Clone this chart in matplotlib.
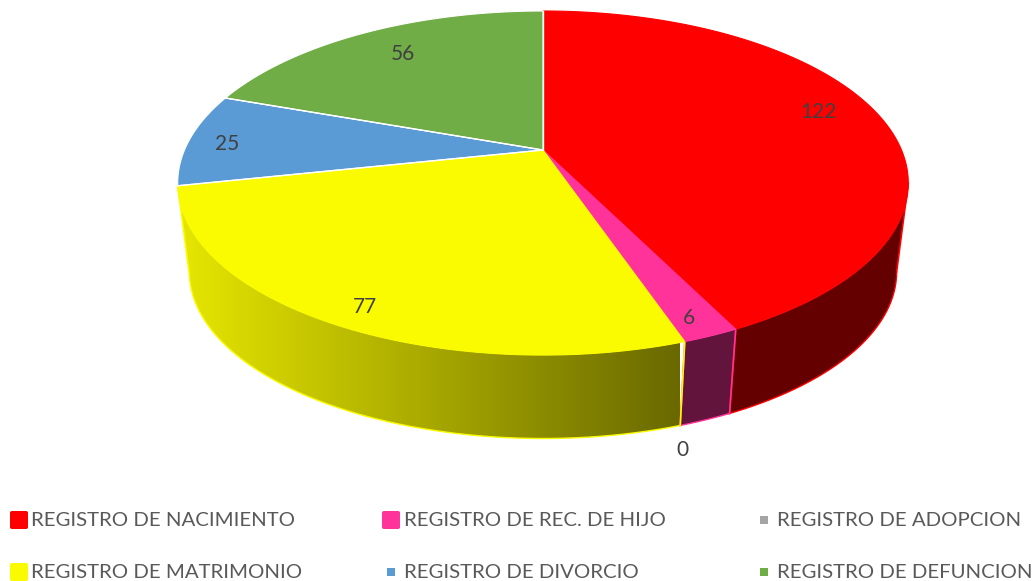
import numpy as np
import matplotlib
matplotlib.use('Agg')
matplotlib.rcParams['font.family'] = 'Lato'
import matplotlib.pyplot as plt
from matplotlib.patches import FancyBboxPatch, Polygon, Rectangle

categories = ['REGISTRO DE NACIMIENTO', 'REGISTRO DE REC. DE HIJO', 'REGISTRO DE ADOPCION',
              'REGISTRO DE MATRIMONIO', 'REGISTRO DE DIVORCIO', 'REGISTRO DE DEFUNCION']
values = [122, 6, 0, 77, 25, 56]
colors = ['#FF0000', '#FF3399', '#A5A5A5', '#FBFB00', '#5B9BD5', '#70AD47']
side_colors = ['#640000', '#63143C', '#555555', None]

# label positions in pixels
label_x = [818, 689, 682, 365, 227, 403]
label_y = [112, 318, 450, 307, 144, 54]

# legend layout in pixels: box x, text x, row y, box size
legend_box_x = [10, 382, 760, 10, 387, 760]
legend_text_x = [31, 404, 777, 31, 404, 777]
legend_y = [520, 520, 520, 572, 572, 572]
legend_box = [18, 18, 8, 18, 8, 8]

# perspective of the disc
cx, cy = 543, 150
A, B, p = 358.5, 165.7, 0.192
shrink, bottom_y = 0.968, 240
wall_start = np.arccos(-p)


def top_rim(t):
    u, v = np.sin(t), np.cos(t)
    w = 1 + p*v
    return cx + A*u/w, cy - B*v/w


def bottom_rim(t):
    x, y = top_rim(t)
    return cx + shrink*(x - cx), bottom_y + shrink*(y - cy)


fig = plt.figure(figsize=(10.32, 5.81), dpi=100)
ax = fig.add_axes([0, 0, 1, 1])

edges = np.cumsum([0] + values)/sum(values)*2*np.pi

# walls, blue and green sit at the back so they have none
for i in range(len(side_colors)):
    t0, t1 = max(edges[i], wall_start), edges[i+1]
    if t0 >= t1:
        continue
    t = np.linspace(t0, t1, 300)
    xt, yt = top_rim(t)
    xb, yb = bottom_rim(t)
    pts = np.column_stack([np.r_[xt, xb[::-1]], np.r_[yt, yb[::-1]]])
    if side_colors[i] is None:
        # yellow wall gets darker to the right
        wall = Polygon(pts, closed=True, facecolor='none', edgecolor='none')
        ax.add_patch(wall)
        shade = np.linspace(228, 105, 256)/255
        grad = np.stack([shade, shade, np.zeros(256)], axis=-1)[np.newaxis, :, :]
        im = ax.imshow(grad, extent=(190, 680, 581, 0), aspect='auto', zorder=1, interpolation='bilinear')
        im.set_clip_path(wall)
        # the gradient stops at 190, fill what lies left of it
        left = Rectangle((170, 150), 20, 200, facecolor=(228/255, 228/255, 0), edgecolor='none', zorder=1)
        ax.add_patch(left)
        left.set_clip_path(wall)
    else:
        ax.add_patch(Polygon(pts, closed=True, facecolor=side_colors[i], edgecolor='none', zorder=1))
    ax.plot(xb, yb, color=colors[i], lw=1.0, zorder=2)
    ax.plot([xt[0], xb[0]], [yt[0], yb[0]], color=colors[i], lw=1.2, zorder=2)
    ax.plot([xt[-1], xb[-1]], [yt[-1], yb[-1]], color=colors[i], lw=1.2, zorder=2)

# top faces
for i in range(len(values)):
    if values[i] == 0:
        continue
    t = np.linspace(edges[i], edges[i+1], 300)
    xt, yt = top_rim(t)
    pts = np.column_stack([np.r_[cx, xt], np.r_[cy, yt]])
    ec = 'white' if i >= 4 else colors[i]
    ax.add_patch(Polygon(pts, closed=True, facecolor=colors[i], edgecolor=ec, lw=0.8, zorder=3))

# white spokes between the far slices
for i in [0, 4, 5]:
    x, y = top_rim(edges[i])
    ax.plot([cx, x], [cy, y], color='white', lw=1.0, zorder=4)

for i in range(len(values)):
    ax.text(label_x[i], label_y[i], str(values[i]), fontsize=15, color='#404040',
            ha='center', va='center', zorder=5)

# legend
for i in range(len(categories)):
    s = legend_box[i]
    if s > 10:
        ax.add_patch(FancyBboxPatch((legend_box_x[i] + 2, legend_y[i] - s/2 + 2), s - 4, s - 4,
                                    boxstyle='round,pad=2', facecolor=colors[i], edgecolor='none'))
    else:
        ax.add_patch(Rectangle((legend_box_x[i], legend_y[i] - s/2), s, s, facecolor=colors[i], edgecolor='none'))
    ax.text(legend_text_x[i], legend_y[i] + 6.5, categories[i], fontsize=14.65, color='#595959',
            ha='left', va='baseline')

ax.set_xlim(0, 1032)
ax.set_ylim(581, 0)
ax.axis('off')

fig.savefig('out.png', dpi=100)
